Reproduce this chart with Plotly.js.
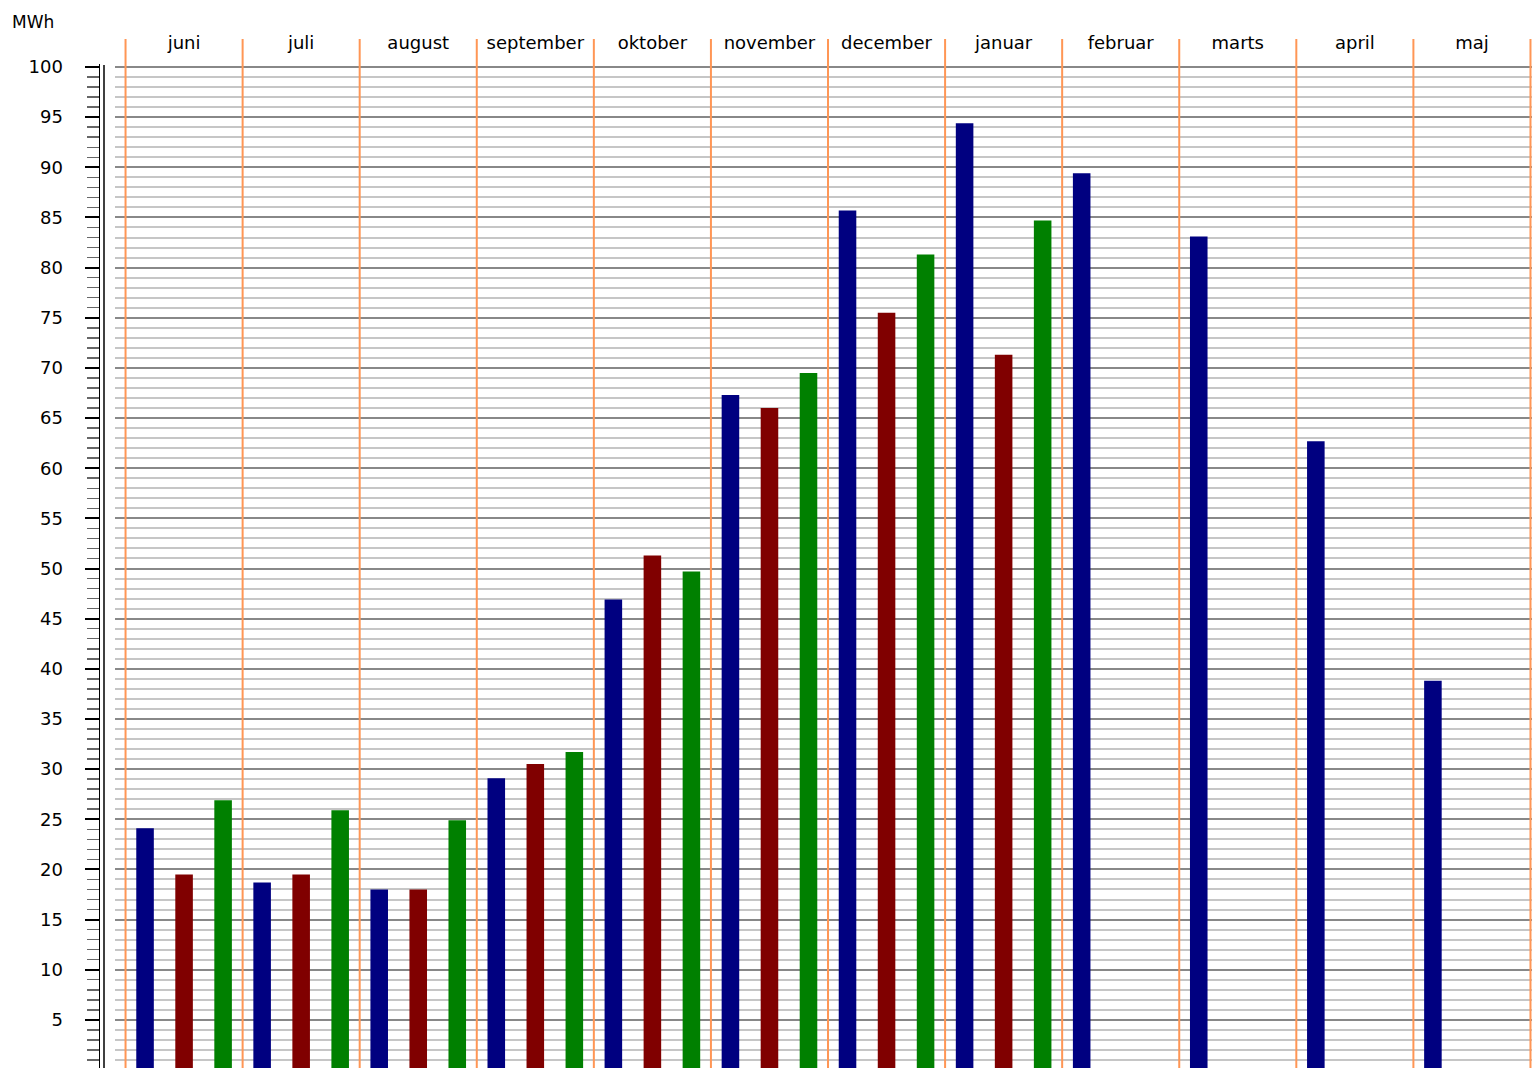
<!DOCTYPE html>
<html><head><meta charset="utf-8">
<script src="https://cdn.plot.ly/plotly-3.0.1.min.js"></script>
<style>html,body{margin:0;padding:0;background:#fff;overflow:hidden;} #chart{width:1532px;height:1068px;}</style>
</head><body><div id="chart"></div>
<script>
const months = ['juni','juli','august','september','oktober','november','december','januar','februar','marts','april','maj'];
const seriesA = [24.1, 18.7, 18.0, 29.1, 46.9, 67.3, 85.7, 94.4, 89.4, 83.1, 62.7, 38.8];
const seriesB = [19.5, 19.5, 18.0, 30.5, 51.3, 66.0, 75.5, 71.3, null, null, null, null];
const seriesC = [26.9, 25.9, 24.9, 31.7, 49.7, 69.5, 81.3, 84.7, null, null, null, null];
const seriesColors = ['#000080', '#800000', '#008000'];
const yUnit = 'MWh';

const W = 1532, H = 1068;
const TOP = 64;
const PH = H - TOP;
const FONT = 'DejaVu Sans, Liberation Sans, Arial, sans-serif';

const traces = [seriesA, seriesB, seriesC].map((vals, k) => ({
  type: 'bar',
  x: months,
  y: vals,
  marker: {color: seriesColors[k], line: {width: 0}},
  showlegend: false,
  hoverinfo: 'x+y'
}));

const shapes = [];
for (let i = 0; i <= months.length; i++) {
  shapes.push({
    type: 'line', xref: 'x', yref: 'paper',
    x0: i - 0.5, x1: i - 0.5, y0: 0, y1: 1 + 25 / PH,
    line: {color: 'rgb(255,150,85)', width: 2}, layer: 'above'
  });
}
// second vertical axis line
shapes.push({
  type: 'line', xref: 'paper', yref: 'paper',
  x0: 104 / W, x1: 104 / W, y0: 0, y1: 1 - 1 / PH,
  line: {color: '#000', width: 1.5}
});

const layout = {
  width: W, height: H,
  margin: {l: 0, r: 0, t: TOP, b: 0, pad: 0},
  paper_bgcolor: '#fff', plot_bgcolor: '#fff',
  font: {family: FONT, size: 18, color: '#000'},
  barmode: 'group',
  bargap: 0,
  bargroupgap: 0.55,
  xaxis: {
    type: 'category',
    side: 'top',
    domain: [115 / W, 1],
    range: [-0.59, 11.513],
    showgrid: false, zeroline: false, showline: false,
    ticks: '',
    ticklabelstandoff: 10,
    tickfont: {family: FONT, size: 18, color: '#000'}
  },
  yaxis: {
    anchor: 'free',
    position: 98.5 / W,
    range: [0.2, 100.3],
    tick0: 0, dtick: 5,
    showline: true, linecolor: '#000', linewidth: 1.5,
    ticks: 'outside', ticklen: 14, tickwidth: 2, tickcolor: '#000',
    ticklabelstandoff: 18,
    showgrid: true, gridcolor: '#888888', gridwidth: 2,
    zeroline: false,
    tickfont: {family: FONT, size: 18, color: '#000'},
    minor: {
      dtick: 1, tick0: 0,
      showgrid: true, gridcolor: '#c6c6c6', gridwidth: 2,
      ticks: 'outside', ticklen: 12, tickwidth: 1.5, tickcolor: '#666'
    }
  },
  shapes: shapes,
  annotations: [{
    text: yUnit, xref: 'paper', yref: 'paper',
    x: 10 / W, y: 1 + 42 / PH, xanchor: 'left', yanchor: 'middle',
    showarrow: false, font: {family: FONT, size: 17, color: '#000'}
  }]
};

Plotly.newPlot('chart', traces, layout, {displayModeBar: false, staticPlot: true});
</script>
</body></html>
